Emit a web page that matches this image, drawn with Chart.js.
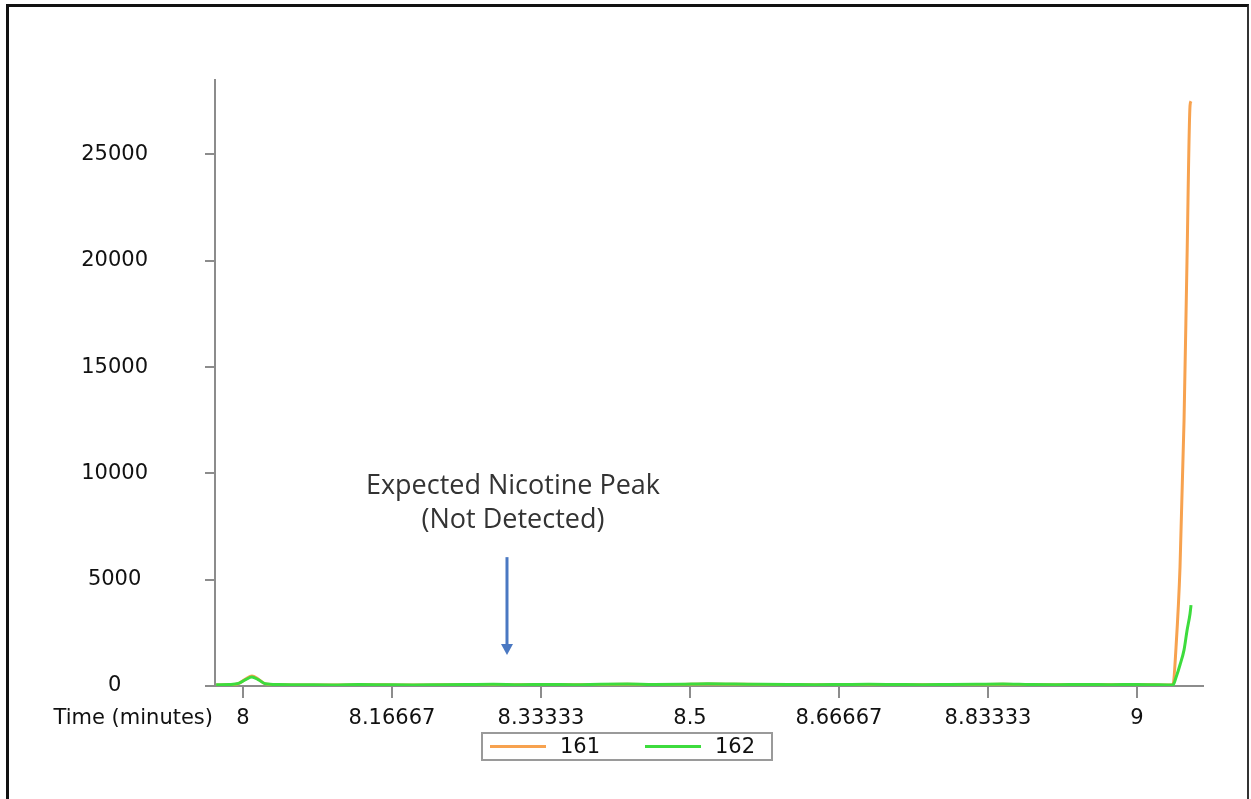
<!DOCTYPE html>
<html>
<head>
<meta charset="utf-8">
<title>Nicotine chromatogram</title>
<script src="https://cdn.jsdelivr.net/npm/chart.js@4.4.1/dist/chart.umd.min.js"></script>
<style>
    html, body { margin: 0; padding: 0; background: #fff; }
    #wrap { position: relative; width: 1251px; height: 799px; overflow: hidden; }
    #frame {
        position: absolute; left: 6px; top: 4px; width: 1238px; height: 820px;
        border-left: 3px solid #111; border-top: 3px solid #111; border-right: 2px solid #333;
        pointer-events: none;
    }
</style>
</head>
<body>
<div id="wrap">
    <canvas id="chromChart" width="1251" height="799"></canvas>
    <div id="frame"></div>
</div>
<script>
// Retention time (minutes) and ion counts for the two traces
const times = [
    7.970, 7.985, 7.995, 8.003, 8.010, 8.017, 8.025, 8.040, 8.070, 8.100,
    8.130, 8.160, 8.190, 8.220, 8.250, 8.280, 8.310, 8.340, 8.370, 8.400,
    8.430, 8.460, 8.490, 8.520, 8.550, 8.580, 8.610, 8.640, 8.670, 8.700,
    8.730, 8.760, 8.790, 8.820, 8.850, 8.880, 8.910, 8.940, 8.970, 9.000,
    9.020, 9.035, 9.0403, 9.0436, 9.0481, 9.0526, 9.0559, 9.0593, 9.0604
];
const counts161 = [
    50, 55, 110, 330, 470, 330, 100, 60, 50, 45,
    60, 55, 45, 55, 60, 70, 55, 65, 55, 70,
    80, 60, 75, 90, 80, 70, 65, 55, 60, 70,
    65, 55, 60, 70, 80, 60, 55, 60, 55, 60,
    55, 50, 80, 1800, 5600, 12500, 20000, 27300, 27500
];
const counts162 = [
    60, 70, 120, 300, 420, 300, 110, 70, 60, 50,
    70, 60, 50, 60, 70, 80, 60, 70, 60, 80,
    90, 70, 80, 100, 90, 80, 70, 60, 70, 80,
    70, 60, 70, 80, 90, 70, 60, 70, 60, 70,
    60, 50, 60, 400, 1000, 1700, 2600, 3400, 3800
];
const seriesLabels = ['161', '162'];
const seriesColors = ['#f7a24f', '#3ddc3d'];

const xTicks = [8, 8.16667, 8.33333, 8.5, 8.66667, 8.83333, 9];
const yTicks = [0, 5000, 10000, 15000, 20000, 25000];
const xMin = 7.9687, xMax = 9.0738;
const yMax = 28500;
const xTitle = 'Time (minutes)';

// annotation: text and arrow placed in data units
const noteLines = ['Expected Nicotine Peak', '(Not Detected)'];
const noteTextTime = 8.302;
const noteTextCounts = [9400, 7800];
const arrowTime = 8.2953;
const arrowFrom = 6060, arrowTo = 1460;

const tickFont = { family: '"DejaVu Sans", sans-serif', size: 21 };

const timeLabelPlugin = {
    id: 'timeLabel',
    afterDraw(chart) {
        const { ctx, chartArea } = chart;
        ctx.save();
        ctx.font = `${tickFont.size}px ${tickFont.family}`;
        ctx.fillStyle = '#111';
        ctx.textAlign = 'right';
        ctx.textBaseline = 'middle';
        ctx.fillText(xTitle, chartArea.left - 2, chartArea.bottom + 33);
        ctx.restore();
    }
};

const notePlugin = {
    id: 'note',
    afterDraw(chart) {
        const { ctx } = chart;
        const x = chart.scales.x, y = chart.scales.y;
        ctx.save();
        ctx.font = '27px "Open Sans", sans-serif';
        ctx.fillStyle = '#333';
        ctx.textAlign = 'center';
        ctx.textBaseline = 'middle';
        noteLines.forEach((line, i) => {
            ctx.fillText(line, x.getPixelForValue(noteTextTime), y.getPixelForValue(noteTextCounts[i]));
        });

        const ax = x.getPixelForValue(arrowTime);
        const ay0 = y.getPixelForValue(arrowFrom);
        const ay1 = y.getPixelForValue(arrowTo);
        ctx.strokeStyle = '#4a78c2';
        ctx.fillStyle = '#4a78c2';
        ctx.lineWidth = 3;
        ctx.beginPath();
        ctx.moveTo(ax, ay0);
        ctx.lineTo(ax, ay1 - 8);
        ctx.stroke();
        ctx.beginPath();
        ctx.moveTo(ax - 6, ay1 - 11);
        ctx.lineTo(ax + 6, ay1 - 11);
        ctx.lineTo(ax, ay1);
        ctx.closePath();
        ctx.fill();
        ctx.restore();
    }
};

// boxed legend under the axis, like the instrument software draws it
const boxLegendPlugin = {
    id: 'boxLegend',
    afterDraw(chart) {
        const { ctx } = chart;
        const left = 482, top = 733, w = 290, h = 27;
        ctx.save();
        ctx.strokeStyle = '#9a9a9a';
        ctx.lineWidth = 2;
        ctx.strokeRect(left, top, w, h);
        ctx.font = `${tickFont.size}px ${tickFont.family}`;
        ctx.textBaseline = 'middle';
        ctx.fillStyle = '#111';
        chart.data.datasets.forEach((ds, i) => {
            const x0 = left + 8 + i * 155;
            ctx.strokeStyle = ds.borderColor;
            ctx.lineWidth = 3;
            ctx.beginPath();
            ctx.moveTo(x0, top + h / 2);
            ctx.lineTo(x0 + 56, top + h / 2);
            ctx.stroke();
            ctx.fillText(ds.label, x0 + 70, top + h / 2 + 1);
        });
        ctx.restore();
    }
};

function buildDataset(label, color, counts, order) {
    return {
        label: label,
        data: times.map((t, i) => ({ x: t, y: counts[i] })),
        borderColor: color,
        backgroundColor: color,
        borderWidth: 3,
        pointRadius: 0,
        cubicInterpolationMode: 'monotone',
        fill: false,
        order: order
    };
}

const ctx = document.getElementById('chromChart').getContext('2d');
new Chart(ctx, {
    type: 'line',
    data: {
        datasets: [
            buildDataset(seriesLabels[0], seriesColors[0], counts161, 1),
            buildDataset(seriesLabels[1], seriesColors[1], counts162, 0)
        ]
    },
    options: {
        responsive: false,
        animation: false,
        devicePixelRatio: 1,
        layout: { padding: { top: 80, right: 48, left: 0, bottom: 0 } },
        plugins: {
            legend: { display: false },
            tooltip: { enabled: false }
        },
        scales: {
            x: {
                type: 'linear',
                min: xMin,
                max: xMax,
                afterBuildTicks: (scale) => { scale.ticks = xTicks.map(v => ({ value: v })); },
                afterFit: (scale) => { scale.height = 113; },
                border: { color: '#8c8c8c', width: 2 },
                grid: { drawOnChartArea: false, drawTicks: true, tickLength: 12, color: '#8c8c8c', lineWidth: 2 },
                ticks: {
                    font: tickFont,
                    color: '#111',
                    padding: 8,
                    maxRotation: 0,
                    autoSkip: false,
                    callback: (v) => String(Number(v.toFixed(5)))
                }
            },
            y: {
                min: 0,
                max: yMax,
                afterBuildTicks: (scale) => { scale.ticks = yTicks.map(v => ({ value: v })); },
                afterFit: (scale) => { scale.width = 215; },
                border: { color: '#8c8c8c', width: 2 },
                grid: { drawOnChartArea: false, drawTicks: true, tickLength: 10, color: '#8c8c8c', lineWidth: 2 },
                ticks: {
                    font: tickFont,
                    color: '#111',
                    padding: 57,
                    crossAlign: 'center',
                    callback: (v) => String(v)
                }
            }
        }
    },
    plugins: [timeLabelPlugin, notePlugin, boxLegendPlugin]
});
</script>
</body>
</html>
